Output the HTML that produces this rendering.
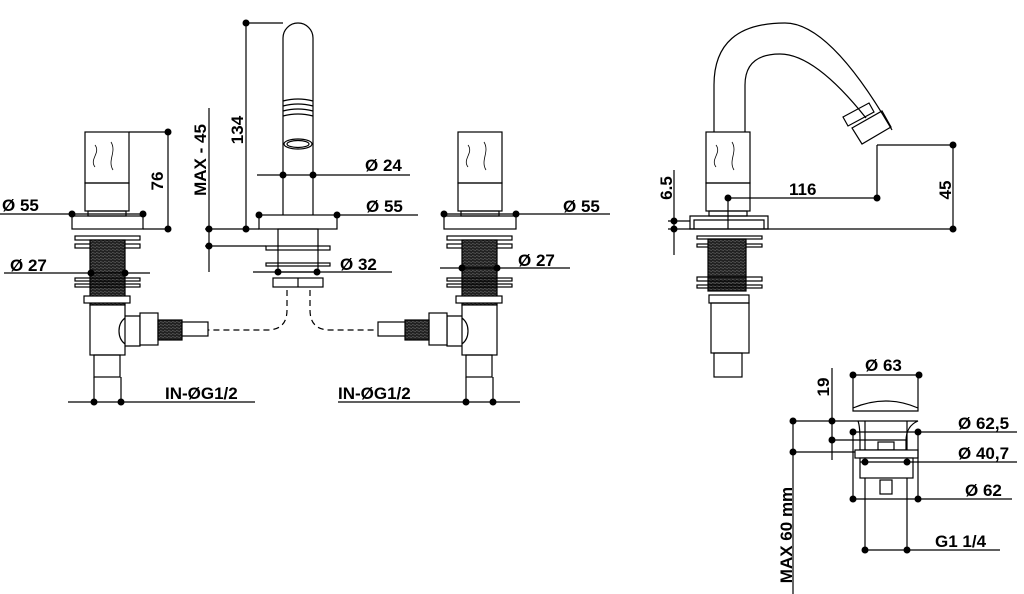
<!DOCTYPE html>
<html><head><meta charset="utf-8"><style>
html,body{margin:0;padding:0;background:#fff;width:1024px;height:594px;overflow:hidden}
svg text{font-family:"Liberation Sans",sans-serif;font-weight:bold;font-size:17px;fill:#000}
</style></head><body>
<svg width="1024" height="594" viewBox="0 0 1024 594" xmlns="http://www.w3.org/2000/svg">
<defs>
<pattern id="thr" width="4" height="3" patternUnits="userSpaceOnUse"><rect width="4" height="3" fill="#222"/><line x1="0" y1="0.5" x2="4" y2="1.5" stroke="#777" stroke-width="0.6"/></pattern>
</defs>
<g fill="none" stroke="#000" stroke-width="1.2">
<!-- LEFT VALVE -->
<rect x="85" y="132" width="44" height="51"/><rect x="85" y="183" width="44" height="28"/>
<path d="M95 145c6 8-6 14 0 22M111 142c6 10-4 18 2 28" stroke-width="0.8"/>
<rect x="88" y="211" width="38" height="5"/>
<rect x="72" y="216" width="71" height="13"/>
<rect x="75" y="236" width="65" height="4"/><rect x="75" y="244" width="65" height="4"/>
<rect x="90" y="240" width="35" height="65" fill="url(#thr)"/>
<rect x="75" y="278" width="65" height="3"/><rect x="75" y="284" width="65" height="3"/>
<rect x="84" y="296" width="46" height="7" fill="#fff"/>
<rect x="90" y="305" width="35" height="50" fill="#fff"/>
<path d="M125 318c-8 6-8 20 0 26" /><path d="M125 316h15v30h-15"/>
<rect x="140" y="313" width="18" height="32" fill="#fff"/>
<rect x="158" y="320" width="24" height="20" fill="url(#thr)"/>
<rect x="182" y="322" width="26" height="14" fill="#fff"/>
<rect x="94" y="355" width="26" height="22"/>
<line x1="129" y1="132" x2="168" y2="132"/><line x1="143" y1="229" x2="168" y2="229"/><line x1="168" y1="132" x2="168" y2="229"/>
<line x1="0" y1="214" x2="143" y2="214"/>
<line x1="4" y1="273" x2="150" y2="273"/>
<line x1="68" y1="402" x2="255" y2="402"/><line x1="94" y1="377" x2="94" y2="402"/><line x1="121" y1="377" x2="121" y2="402"/>
<!-- SPOUT -->
<path d="M283 215V38a15 15 0 0 1 30 0V215"/>
<path d="M283 101q15-4 30 0M283 106q15-4 30 0M283 111q15-4 30 0M283 116q15-4 30 0" />
<ellipse cx="298" cy="144" rx="14" ry="5"/><ellipse cx="298" cy="144" rx="11" ry="3.5"/>
<rect x="259" y="215" width="78" height="14"/>
<rect x="278" y="229" width="40" height="43"/>
<rect x="266" y="246" width="64" height="4"/><rect x="266" y="263" width="64" height="3"/>
<rect x="273" y="278" width="50" height="9"/><line x1="298" y1="278" x2="298" y2="287"/>
<line x1="246" y1="23" x2="283" y2="23"/><line x1="246" y1="23" x2="246" y2="229"/>
<line x1="209" y1="108" x2="209" y2="272"/>
<line x1="205" y1="229" x2="259" y2="229"/><line x1="205" y1="246" x2="266" y2="246"/>
<line x1="257" y1="175" x2="410" y2="175"/>
<line x1="337" y1="215" x2="418" y2="215"/>
<line x1="253" y1="272" x2="392" y2="272"/>
<path d="M287 290v20q0 20-20 20h-59M310 290v20q0 20 20 20h48" stroke-dasharray="6 4"/>
<!-- RIGHT VALVE -->
<rect x="458" y="132" width="44" height="51"/><rect x="458" y="183" width="44" height="28"/>
<path d="M468 145c6 8-6 14 0 22M484 142c6 10-4 18 2 28" stroke-width="0.8"/>
<rect x="461" y="211" width="38" height="5"/>
<rect x="444" y="216" width="72" height="13"/>
<rect x="447" y="236" width="65" height="4"/><rect x="447" y="244" width="65" height="4"/>
<rect x="462" y="240" width="35" height="65" fill="url(#thr)"/>
<rect x="447" y="278" width="65" height="3"/><rect x="447" y="284" width="65" height="3"/>
<rect x="456" y="296" width="46" height="7" fill="#fff"/>
<rect x="462" y="305" width="35" height="50" fill="#fff"/>
<path d="M462 318c8 6 8 20 0 26"/><path d="M462 316h-15v30h15"/>
<rect x="429" y="313" width="18" height="32" fill="#fff"/>
<rect x="405" y="320" width="24" height="20" fill="url(#thr)"/>
<rect x="378" y="322" width="27" height="14" fill="#fff"/>
<rect x="466" y="355" width="26" height="22"/>
<line x1="444" y1="214" x2="610" y2="214"/>
<line x1="440" y1="268" x2="570" y2="268"/>
<line x1="338" y1="402" x2="520" y2="402"/><line x1="466" y1="377" x2="466" y2="402"/><line x1="493" y1="377" x2="493" y2="402"/>
<!-- BIDET -->
<path d="M714 132V85Q714 23 785 23Q830 23 892 130"/>
<path d="M745 132V85Q745 54 780 54Q815 54 866 118"/>
<path d="M843 117l26-14 5 9-26 14z M852 128l30-17 9 16-29 17z"/>
<rect x="706" y="132" width="44" height="51"/><rect x="706" y="183" width="44" height="28"/>
<path d="M716 145c6 8-6 14 0 22M732 142c6 10-4 18 2 28" stroke-width="0.8"/>
<rect x="709" y="211" width="38" height="5"/>
<path d="M690 229v-13h78v13z M694 229v-9h70v9"/>
<rect x="697" y="236" width="65" height="3"/><rect x="697" y="244" width="65" height="3"/>
<rect x="708" y="239" width="38" height="52" fill="url(#thr)"/>
<rect x="697" y="277" width="65" height="4"/><rect x="697" y="285" width="65" height="3"/>
<rect x="709" y="295" width="40" height="8"/>
<rect x="711" y="303" width="38" height="50"/>
<rect x="714" y="353" width="28" height="24"/>
<line x1="728" y1="198" x2="877" y2="198"/><line x1="728" y1="198" x2="728" y2="229"/>
<line x1="877" y1="145" x2="877" y2="198"/><line x1="877" y1="145" x2="953" y2="145"/>
<line x1="953" y1="145" x2="953" y2="229"/>
<line x1="668" y1="229" x2="953" y2="229"/><line x1="668" y1="221" x2="690" y2="221"/>
<line x1="674" y1="170" x2="674" y2="255"/>
<!-- DRAIN -->
<path d="M853 375v33M918 375v33M853 408q33-14 65 0v3h-65z"/>
<path d="M858 421h60q-12 5-12 20v9h-46v-9q0-15-2-20"/>
<line x1="865" y1="421" x2="865" y2="550"/><line x1="907" y1="421" x2="907" y2="550"/>
<rect x="878" y="442" width="16" height="8"/>
<rect x="855" y="450" width="63" height="8" fill="#fff"/>
<rect x="860" y="458" width="53" height="20" fill="#fff"/>
<rect x="880" y="480" width="12" height="14"/>
<line x1="853" y1="375" x2="919" y2="375"/>
<line x1="832" y1="368" x2="832" y2="460"/>
<line x1="793" y1="421" x2="858" y2="421"/>
<line x1="832" y1="440" x2="907" y2="440"/>
<line x1="793" y1="452" x2="855" y2="452"/>
<line x1="793" y1="421" x2="793" y2="594"/>
<line x1="853" y1="432" x2="1017" y2="432"/><line x1="853" y1="432" x2="853" y2="499"/><line x1="918" y1="432" x2="918" y2="499"/>
<line x1="860" y1="462" x2="1017" y2="462"/>
<line x1="850" y1="499" x2="1012" y2="499"/>
<line x1="865" y1="550" x2="1000" y2="550"/>
</g>
<g fill="#000">
<circle cx="168" cy="132" r="3.5"/><circle cx="168" cy="229" r="3.5"/>
<circle cx="72" cy="214" r="3.5"/><circle cx="143" cy="214" r="3.5"/>
<circle cx="91" cy="273" r="3.5"/><circle cx="125" cy="273" r="3.5"/>
<circle cx="94" cy="402" r="3.5"/><circle cx="121" cy="402" r="3.5"/>
<circle cx="246" cy="23" r="3.5"/><circle cx="246" cy="229" r="3.5"/>
<circle cx="209" cy="229" r="3.5"/><circle cx="209" cy="246" r="3.5"/>
<circle cx="283" cy="175" r="3.5"/><circle cx="313" cy="175" r="3.5"/>
<circle cx="259" cy="215" r="3.5"/><circle cx="337" cy="215" r="3.5"/>
<circle cx="278" cy="272" r="3.5"/><circle cx="317" cy="272" r="3.5"/>
<circle cx="444" cy="214" r="3.5"/><circle cx="516" cy="214" r="3.5"/>
<circle cx="462" cy="268" r="3.5"/><circle cx="497" cy="268" r="3.5"/>
<circle cx="466" cy="402" r="3.5"/><circle cx="493" cy="402" r="3.5"/>
<circle cx="728" cy="198" r="3.5"/><circle cx="877" cy="198" r="3.5"/>
<circle cx="953" cy="145" r="3.5"/><circle cx="953" cy="229" r="3.5"/>
<circle cx="674" cy="221" r="3.5"/><circle cx="674" cy="229" r="3.5"/>
<circle cx="853" cy="375" r="3.5"/><circle cx="919" cy="375" r="3.5"/>
<circle cx="793" cy="421" r="3.5"/><circle cx="832" cy="421" r="3.5"/>
<circle cx="853" cy="432" r="3.5"/><circle cx="918" cy="432" r="3.5"/>
<circle cx="832" cy="440" r="3.5"/><circle cx="793" cy="452" r="3.5"/>
<circle cx="865" cy="462" r="3.5"/><circle cx="907" cy="462" r="3.5"/>
<circle cx="853" cy="499" r="3.5"/><circle cx="918" cy="499" r="3.5"/>
<circle cx="865" cy="550" r="3.5"/><circle cx="907" cy="550" r="3.5"/>
</g>
<text x="2" y="211">Ø  55</text>
<text x="10" y="271">Ø 27</text>
<text transform="translate(163,181) rotate(-90)" text-anchor="middle">76</text>
<text x="165" y="399">IN-ØG1/2</text>
<text transform="translate(206,160) rotate(-90)" text-anchor="middle">MAX - 45</text>
<text transform="translate(243,130) rotate(-90)" text-anchor="middle">134</text>
<text x="365" y="171">Ø  24</text>
<text x="366" y="212">Ø 55</text>
<text x="340" y="270">Ø 32</text>
<text x="338" y="399">IN-ØG1/2</text>
<text x="563" y="212">Ø  55</text>
<text x="518" y="266">Ø 27</text>
<text x="789" y="195">116</text>
<text transform="translate(951,190) rotate(-90)" text-anchor="middle">45</text>
<text transform="translate(672,188) rotate(-90)" text-anchor="middle">6.5</text>
<text x="865" y="371">Ø  63</text>
<text transform="translate(829,387) rotate(-90)" text-anchor="middle">19</text>
<text x="958" y="429">Ø  62,5</text>
<text x="958" y="459">Ø  40,7</text>
<text x="965" y="496">Ø  62</text>
<text x="935" y="547">G1 1/4</text>
<text transform="translate(792,535) rotate(-90)" text-anchor="middle">MAX 60 mm</text>
</svg>
</body></html>
